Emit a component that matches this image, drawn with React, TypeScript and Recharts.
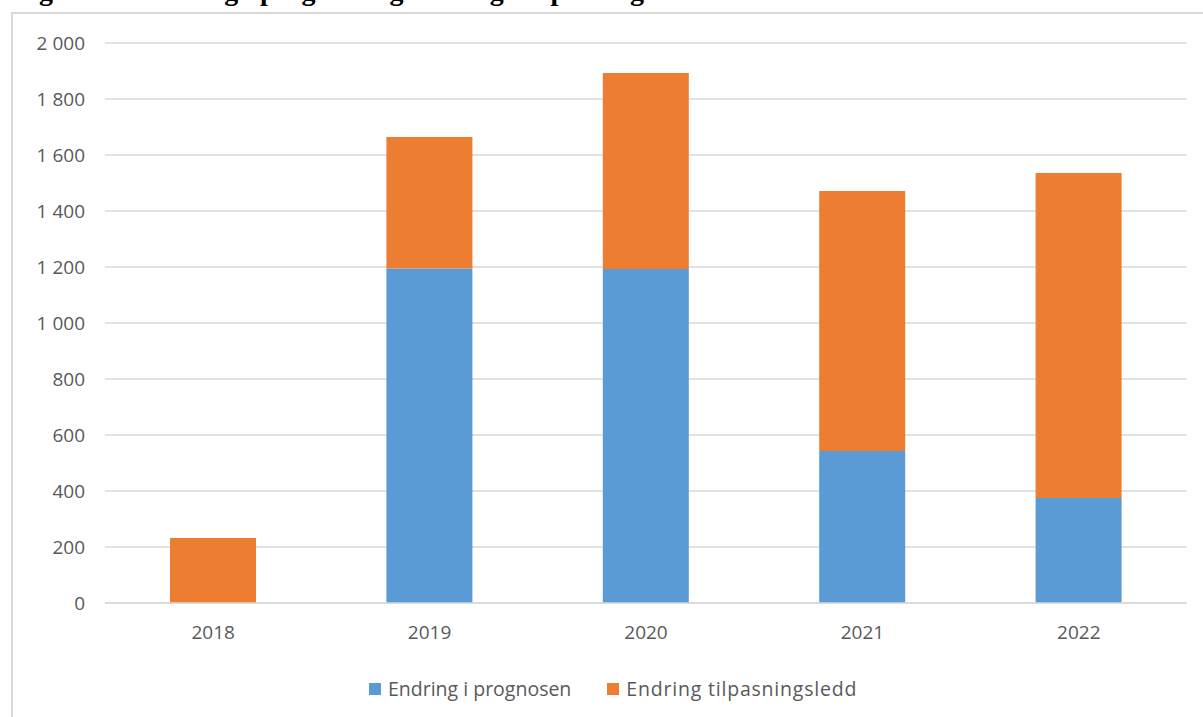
import React from 'react';
import { Bar, BarChart, CartesianGrid, XAxis, YAxis } from 'recharts';

const years = ['2018', '2019', '2020', '2021', '2022'];
const seriesNames = ['Endring i prognosen', 'Endring tilpasningsledd'];
const prognose = [0, 1195, 1193, 543, 375];
const tilpasning = [232, 469, 700, 928, 1161];
const yTicks = [0, 200, 400, 600, 800, 1000, 1200, 1400, 1600, 1800, 2000];

const BLUE = '#5B9BD5';
const ORANGE = '#ED7D31';
const TEXT = '#595959';
const FONT = '"Open Sans", sans-serif';
const colors = [BLUE, ORANGE];

const data = years.map((year, i) => ({
    year,
    [seriesNames[0]]: prognose[i],
    [seriesNames[1]]: tilpasning[i],
}));

const formatNumber = (v: number) => String(v).replace(/\B(?=(\d{3})+(?!\d))/g, ' ');

function App() {
    return (
        <div style={{ position: 'absolute', left: 0, top: 0, width: 1203, height: 717, background: '#fff', overflow: 'hidden' }}>
            <div
                style={{
                    position: 'absolute',
                    left: 14,
                    top: -24,
                    fontFamily: '"Liberation Serif", serif',
                    fontWeight: 'bold',
                    fontSize: 28,
                    whiteSpace: 'nowrap',
                    lineHeight: '30px',
                }}
            >
                Figur 3.6: Endring i prognose og endring i tilpasningsledd
            </div>
            <div
                style={{
                    position: 'absolute',
                    left: 11,
                    top: 12,
                    width: 1240,
                    height: 760,
                    border: '2px solid #d9d9d9',
                    background: '#fff',
                }}
            />
            <div style={{ position: 'absolute', left: 0, top: 0 }}>
                <BarChart
                    width={1203}
                    height={717}
                    data={data}
                    margin={{ top: 43, right: 16, left: 15, bottom: 84 }}
                    barCategoryGap='30%'
                >
                    <CartesianGrid vertical={false} stroke='#d9d9d9' strokeWidth={1.5} />
                    <XAxis
                        dataKey='year'
                        axisLine={{ stroke: '#d9d9d9', strokeWidth: 1.5 }}
                        tickLine={false}
                        tickSize={0}
                        tickMargin={23}
                        height={30}
                        tick={{ fill: TEXT, fontSize: 19, fontFamily: FONT }}
                    />
                    <YAxis
                        width={90}
                        domain={[0, 2000]}
                        ticks={yTicks}
                        axisLine={false}
                        tickLine={false}
                        tickSize={0}
                        tickMargin={20}
                        tickFormatter={formatNumber}
                        tick={{ fill: TEXT, fontSize: 19, fontFamily: FONT }}
                    />
                    <Bar dataKey={seriesNames[0]} stackId='a' fill={BLUE} barSize={86} isAnimationActive={false} />
                    <Bar dataKey={seriesNames[1]} stackId='a' fill={ORANGE} barSize={86} isAnimationActive={false} />
                </BarChart>
            </div>
            <div
                style={{
                    position: 'absolute',
                    left: 369,
                    top: 675,
                    display: 'flex',
                    alignItems: 'center',
                    fontFamily: FONT,
                    fontSize: 19.5,
                    color: TEXT,
                    whiteSpace: 'nowrap',
                }}
            >
                {seriesNames.map((name, i) => (
                    <div key={name} style={{ display: 'flex', alignItems: 'center', marginRight: 36 }}>
                        <span style={{ width: 12, height: 12, background: colors[i], display: 'inline-block', marginRight: 7 }} />
                        <span style={{ letterSpacing: i === 1 ? 0.8 : 0 }}>{name}</span>
                    </div>
                ))}
            </div>
        </div>
    );
}

export default App;
